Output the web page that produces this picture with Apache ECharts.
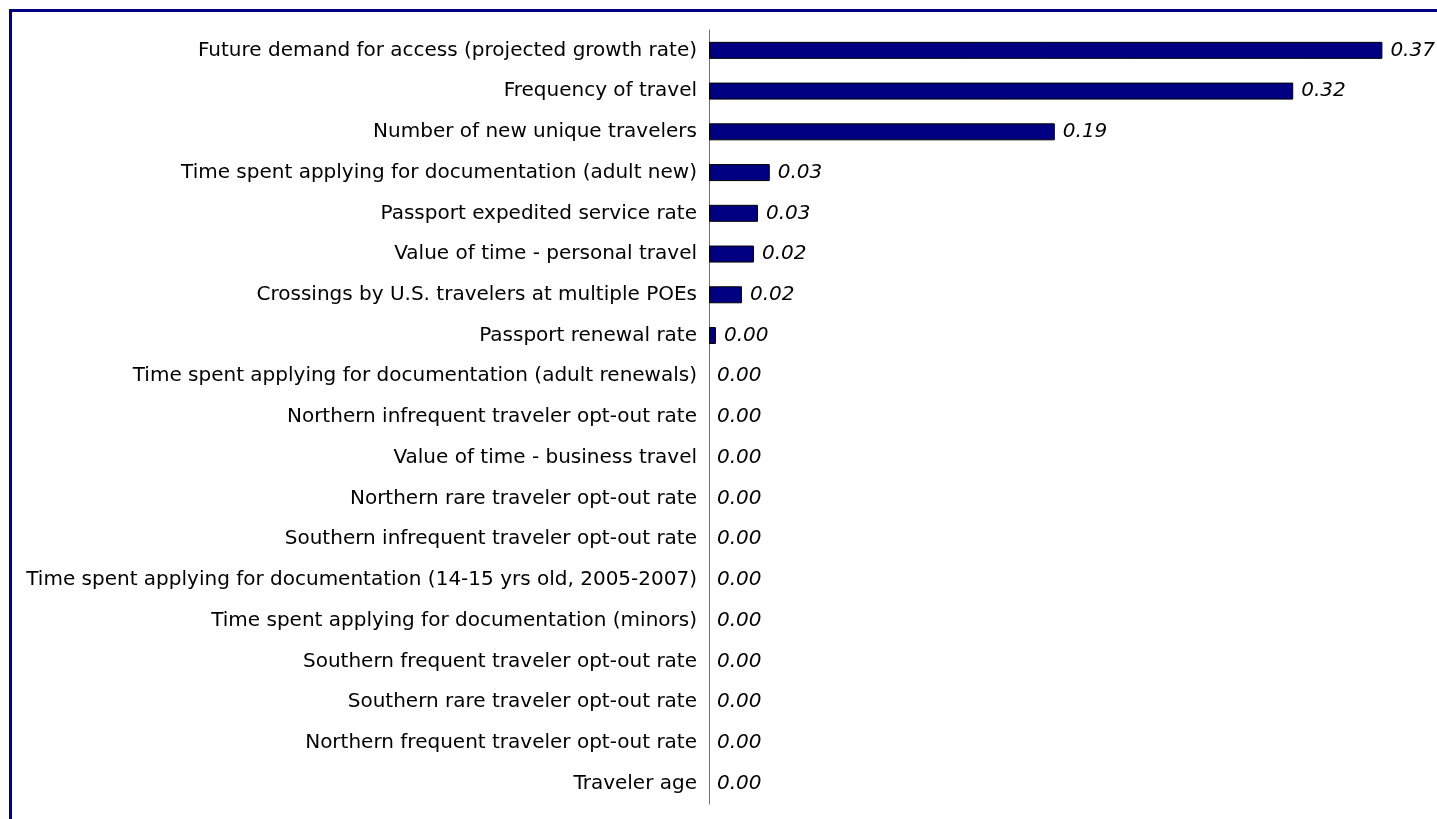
<!DOCTYPE html>
<html><head><meta charset="utf-8">
<script src="https://cdn.jsdelivr.net/npm/echarts@6/dist/echarts.min.js"></script>
<style>html,body{margin:0;padding:0;background:#fff;}#c{width:1437px;height:819px;}</style>
</head><body><div id="c"></div>
<script>
const categories = [
  "Future demand for access (projected growth rate)",
  "Frequency of travel",
  "Number of new unique travelers",
  "Time spent applying for documentation (adult new)",
  "Passport expedited service rate",
  "Value of time - personal travel",
  "Crossings by U.S. travelers at multiple POEs",
  "Passport renewal rate",
  "Time spent applying for documentation (adult renewals)",
  "Northern infrequent traveler opt-out rate",
  "Value of time - business travel",
  "Northern rare traveler opt-out rate",
  "Southern infrequent traveler opt-out rate",
  "Time spent applying for documentation (14-15 yrs old, 2005-2007)",
  "Time spent applying for documentation (minors)",
  "Southern frequent traveler opt-out rate",
  "Southern rare traveler opt-out rate",
  "Northern frequent traveler opt-out rate",
  "Traveler age"
];
const values = [0.37, 0.321, 0.19, 0.0334, 0.0269, 0.0247, 0.0181, 0.0038, 0, 0, 0, 0, 0, 0, 0, 0, 0, 0, 0];

const seriesData = values.map(v => v === 0 ? { value: v, itemStyle: { borderWidth: 0 } } : v);

const chart = echarts.init(document.getElementById('c'));
chart.setOption({
  animation: false,
  graphic: [{
    type: 'rect',
    shape: { x: 10.5, y: 10.5, width: 1600, height: 1000 },
    style: { fill: 'none', stroke: '#000080', lineWidth: 3 },
    silent: true
  }],
  grid: { left: 709, top: 30, width: 730, height: 774 },
  xAxis: { type: 'value', min: 0, max: 0.4, show: false },
  yAxis: {
    type: 'category', data: categories, inverse: true,
    axisLine: { show: true, lineStyle: { color: '#707070', width: 1 } },
    axisTick: { show: false },
    axisLabel: { margin: 12, color: '#000', fontFamily: 'DejaVu Sans', fontSize: 20 }
  },
  series: [{
    type: 'bar', data: seriesData, barWidth: 17,
    itemStyle: { color: '#000080', borderColor: '#000', borderWidth: 1 },
    label: {
      show: true, position: 'right', distance: 8,
      color: '#000', fontStyle: 'italic', fontFamily: 'DejaVu Sans', fontSize: 20,
      formatter: p => p.value.toFixed(2)
    }
  }]
});
</script></body></html>
